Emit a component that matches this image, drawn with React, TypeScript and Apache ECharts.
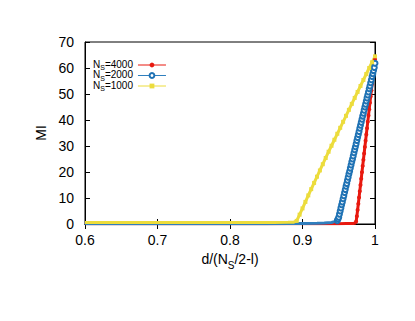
import React, { useEffect, useRef } from "react";
import * as echarts from "echarts";

const seriesNames = ["N_S=4000", "N_S=2000", "N_S=1000"];
const legendRich = ["{a|N}{s|S}{a|=4000}", "{a|N}{s|S}{a|=2000}", "{a|N}{s|S}{a|=1000}"];

const xTicks = [0.6, 0.7, 0.8, 0.9, 1.0];
const yTicks = [0, 10, 20, 30, 40, 50, 60, 70];

// N_S = 4000 (red)
const d4000 = [0.6, 0.65, 0.7, 0.75, 0.8, 0.85, 0.9, 0.93, 0.95, 0.96, 0.97, 0.973, 0.974, 0.975, 0.976, 0.977, 0.978, 0.979, 0.98, 0.981, 0.982, 0.983, 0.984, 0.985, 0.986, 0.987, 0.988, 0.989, 0.99, 0.991, 0.992, 0.993, 0.994, 0.995, 0.996, 0.997, 0.998, 0.999, 1.0];
const v4000 = [0.05, 0.05, 0.05, 0.05, 0.05, 0.05, 0.05, 0.1, 0.1, 0.15, 0.2, 0.4, 1.0, 3.0, 5.4, 7.8, 10.2, 12.6, 15.0, 17.4, 19.9, 22.3, 24.7, 27.1, 29.6, 32.0, 34.4, 36.8, 39.3, 41.7, 44.1, 46.6, 49.0, 51.4, 53.8, 56.3, 58.7, 61.1, 63.5];

// N_S = 2000 (blue)
const d2000 = [0.6, 0.65, 0.7, 0.75, 0.8, 0.85, 0.88, 0.9, 0.92, 0.93, 0.94, 0.944, 0.948, 0.949, 0.95, 0.951, 0.952, 0.953, 0.954, 0.955, 0.956, 0.957, 0.958, 0.959, 0.96, 0.961, 0.962, 0.963, 0.964, 0.965, 0.966, 0.967, 0.968, 0.969, 0.97, 0.971, 0.972, 0.973, 0.974, 0.975, 0.976, 0.977, 0.978, 0.979, 0.98, 0.981, 0.982, 0.983, 0.984, 0.985, 0.986, 0.987, 0.988, 0.989, 0.99, 0.991, 0.992, 0.993, 0.994, 0.995, 0.996, 0.997, 0.998, 0.999, 1.0];
const v2000 = [0.1, 0.1, 0.1, 0.1, 0.1, 0.1, 0.15, 0.2, 0.3, 0.4, 0.6, 0.9, 1.3, 1.9, 2.6, 3.8, 5.0, 6.2, 7.4, 8.5, 9.7, 10.9, 12.1, 13.3, 14.5, 15.6, 16.8, 18.0, 19.2, 20.3, 21.5, 22.7, 23.9, 25.0, 26.2, 27.4, 28.6, 29.7, 30.9, 32.1, 33.3, 34.4, 35.6, 36.8, 38.0, 39.1, 40.3, 41.5, 42.6, 43.8, 45.0, 46.1, 47.3, 48.5, 49.6, 50.8, 52.0, 53.1, 54.3, 55.5, 56.7, 57.8, 59.0, 60.2, 61.8];

// N_S = 1000 (yellow)
const d1000 = [0.6, 0.62, 0.64, 0.66, 0.68, 0.7, 0.72, 0.74, 0.76, 0.78, 0.8, 0.82, 0.84, 0.86, 0.88, 0.888, 0.892, 0.896, 0.9, 0.904, 0.908, 0.912, 0.916, 0.92, 0.924, 0.928, 0.932, 0.936, 0.94, 0.944, 0.948, 0.952, 0.956, 0.96, 0.964, 0.968, 0.972, 0.976, 0.98, 0.984, 0.988, 0.992, 0.996, 1.0];
const v1000 = [0.6, 0.6, 0.6, 0.6, 0.6, 0.6, 0.6, 0.6, 0.6, 0.6, 0.6, 0.6, 0.6, 0.6, 0.65, 0.7, 1.2, 3.6, 6.0, 8.5, 11.0, 13.4, 15.8, 18.2, 20.6, 23.0, 25.4, 27.8, 30.1, 32.4, 34.7, 37.0, 39.3, 41.6, 43.9, 46.2, 48.5, 50.8, 53.1, 55.4, 57.7, 60.0, 62.2, 64.5];

const colors = ["#e8190f", "#1f72b4", "#ecdc3c"];

const pair = (xs: number[], ys: number[]) => xs.map((x, i) => [x, ys[i]]);

export default function App() {
  const ref = useRef<HTMLDivElement>(null);
  useEffect(() => {
    if (!ref.current) return;
    const chart = echarts.init(ref.current, null, { renderer: "svg" });
    const font = "'Liberation Sans', Arial, sans-serif";
    const fmtX = (v: number) => (Math.abs(v - 1) < 1e-9 ? "1" : v.toFixed(1));
    const richLegend = {
      a: { fontSize: 10, fontFamily: font, color: "#000", lineHeight: 12, verticalAlign: "top" },
      s: { fontSize: 7, fontFamily: font, color: "#000", lineHeight: 12, verticalAlign: "bottom" },
    };
    const sizeFn = (s: number) => (v: number[]) => (v[1] < 1 ? 0 : s);
    chart.setOption({
      animation: false,
      backgroundColor: "#ffffff",
      textStyle: { fontFamily: font },
      grid: { left: 85, right: 40, top: 42, bottom: 97, show: true, borderColor: "#000", borderWidth: 1, containLabel: false },
      legend: {
        orient: "vertical",
        left: 88,
        top: 54,
        align: "right",
        itemWidth: 28,
        itemHeight: 6,
        itemGap: -1.5,
        data: seriesNames,
        formatter: (name: string) => legendRich[seriesNames.indexOf(name)],
        textStyle: { rich: richLegend, padding: [0, 0, 0, 0] },
        lineStyle: { width: 1 },
      },
      xAxis: [
        {
          type: "value",
          min: 0.6,
          max: 1.0,
          interval: 0.1,
          position: "bottom",
          axisLine: { show: true, lineStyle: { color: "#000", width: 1 } },
          axisTick: { show: true, inside: true, length: 5, lineStyle: { color: "#000" } },
          axisLabel: { formatter: fmtX, fontSize: 14, color: "#000", fontFamily: font, margin: 9 },
          splitLine: { show: false },
          name: "{a|d/(N}{s|S}{a|/2-l)}",
          nameLocation: "middle",
          nameGap: 27,
          nameTextStyle: {
            rich: {
              a: { fontSize: 14, fontFamily: font, color: "#000", lineHeight: 19, verticalAlign: "top" },
              s: { fontSize: 10, fontFamily: font, color: "#000", lineHeight: 19, verticalAlign: "bottom" },
            },
          },
        },
        {
          type: "value",
          min: 0.6,
          max: 1.0,
          interval: 0.1,
          position: "top",
          axisLine: { show: true, lineStyle: { color: "#000", width: 1 } },
          axisTick: { show: true, inside: true, length: 5, lineStyle: { color: "#000" } },
          axisLabel: { show: false },
          splitLine: { show: false },
        },
      ],
      yAxis: [
        {
          type: "value",
          min: 0,
          max: 70,
          interval: 10,
          position: "left",
          axisLine: { show: true, lineStyle: { color: "#000", width: 1 } },
          axisTick: { show: true, inside: true, length: 5, lineStyle: { color: "#000" } },
          axisLabel: { fontSize: 14, color: "#000", fontFamily: font, margin: 11 },
          splitLine: { show: false },
          name: "MI",
          nameLocation: "middle",
          nameGap: 36,
          nameRotate: 90,
          nameTextStyle: { fontSize: 14, color: "#000", fontFamily: font },
        },
        {
          type: "value",
          min: 0,
          max: 70,
          interval: 10,
          position: "right",
          axisLine: { show: true, lineStyle: { color: "#000", width: 1 } },
          axisTick: { show: true, inside: true, length: 5, lineStyle: { color: "#000" } },
          axisLabel: { show: false },
          splitLine: { show: false },
        },
      ],
      series: [
        {
          name: seriesNames[0],
          type: "line",
          data: pair(d4000, v4000),
          color: colors[0],
          symbol: "circle",
          symbolSize: sizeFn(4),
          showAllSymbol: true,
          lineStyle: { width: 3, color: colors[0] },
          itemStyle: { color: colors[0] },
        },
        {
          name: seriesNames[1],
          type: "line",
          data: pair(d2000, v2000),
          color: colors[1],
          symbol: "emptyCircle",
          symbolSize: sizeFn(5),
          showAllSymbol: true,
          lineStyle: { width: 3, color: "#2f7fbe" },
          itemStyle: { color: colors[1], borderColor: colors[1], borderWidth: 1.1 },
        },
        {
          name: seriesNames[2],
          type: "line",
          data: pair(d1000, v1000),
          color: colors[2],
          symbol: "rect",
          symbolSize: sizeFn(4),
          showAllSymbol: true,
          lineStyle: { width: 3, color: colors[2] },
          itemStyle: { color: colors[2] },
        },
      ],
    });
    return () => chart.dispose();
  }, []);
  return (
    <div
      ref={ref}
      style={{ position: "absolute", left: 0, top: 0, width: 415, height: 321, background: "#fff" }}
    />
  );
}
